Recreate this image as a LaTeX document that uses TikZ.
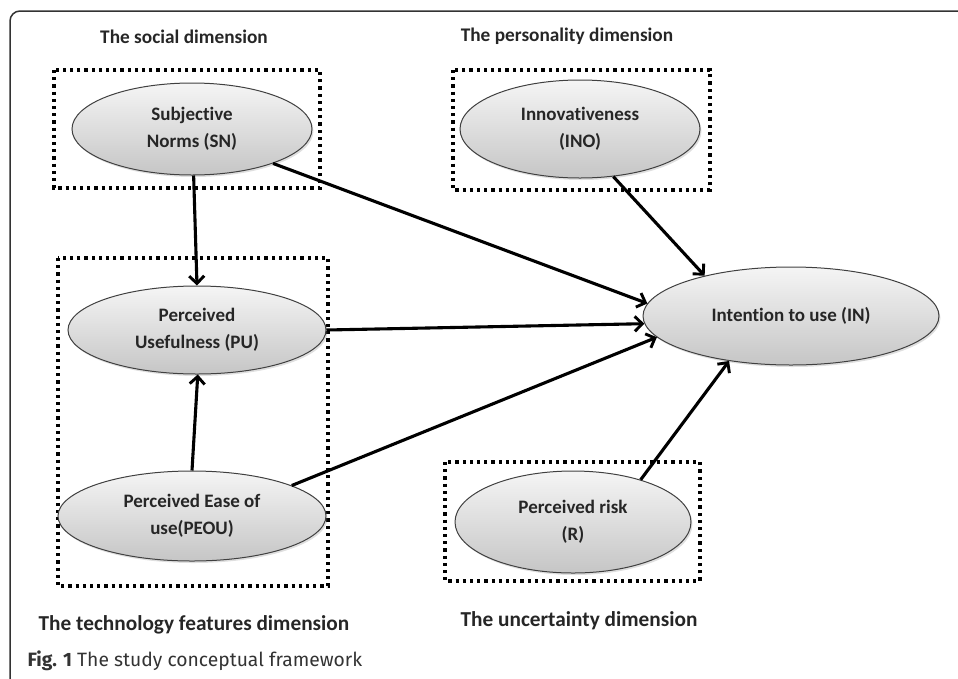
\documentclass[tikz,border=0pt]{standalone}
\usepackage{fontspec}
\setmainfont{Carlito}[Ligatures=CommonOff]
\newfontfamily\capfont{Fira Sans}
\usetikzlibrary{arrows.meta,shapes.geometric,shadows}
\begin{document}
\begin{tikzpicture}[x=1pt,y=-1pt,
  oval/.style={ellipse,draw=black!75,line width=1pt,inner sep=0pt,
    top color=gray!8,bottom color=gray!45,
    drop shadow={opacity=0.25,shadow xshift=1.5pt,shadow yshift=-2pt},
    font=\fontsize{19}{27.5}\selectfont\bfseries,align=center,text=black!85},
  dimbox/.style={draw=black,line width=3.3pt,dash pattern=on 3.2pt off 4pt},
  dimlabel/.style={font=\fontsize{19.3}{22}\selectfont\bfseries,text=black!85},
  dimlabelb/.style={font=\fontsize{21.3}{24}\selectfont\bfseries,text=black!85},
  arr/.style={line width=3.1pt,-{Straight Barb[length=7.5pt,width=15pt,line width=2.9pt]}}]
\useasboundingbox (0,0) rectangle (958,678);
\draw[black!80,line width=1.5pt,rounded corners=10pt] (10,11) rectangle (990,700);
% dotted group boxes
\draw[dimbox] (54,70) rectangle (320,188);
\draw[dimbox] (453,70) rectangle (710,190);
\draw[dimbox] (58,258) rectangle (328,586);
\draw[dimbox] (445,462) rectangle (700,581);
% dimension labels
\node[dimlabel] (tsoc) at (184,37) {The social dimension};
\node[dimlabel] (tper) at (567,36) {The personality dimension};
\node[dimlabelb] (ttec) at (194,625) {The technology features dimension};
\node[dimlabelb] (tunc) at (579,621) {The uncertainty dimension};
% ellipses
\node[oval,minimum width=240pt,minimum height=92pt] (sn) at (192,129) {Subjective\\Norms (SN)};
\node[oval,minimum width=258pt,minimum height=88pt] (pu) at (197,330) {Perceived\\Usefulness (PU)};
\node[oval,minimum width=268pt,minimum height=90pt] (peou) at (192,516) {Perceived Ease of\\use(PEOU)};
\node[oval,minimum width=240pt,minimum height=98pt] (ino) at (580,129) {Innovativeness\\(INO)};
\node[oval,minimum width=296pt,minimum height=98pt] (intent) at (791,316) {Intention to use (IN)};
\node[oval,minimum width=236pt,minimum height=102pt] (risk) at (573,522) {Perceived risk\\(R)};
% arrows
\draw[arr] (sn.-88) -- (pu.north);
\draw[arr] (peou.north) -- (pu.-89);
\draw[arr] (sn.-23) -- (intent.175);
\draw[arr] (pu.east) -- (intent.-177);
\draw[arr] (peou.17.6) -- (intent.-171.5);
\draw[arr] (ino.-55.7) -- (intent.155);
\draw[arr] (risk.32) -- (intent.-144.5);
% caption
\node[anchor=west,font=\capfont\fontsize{19.3}{22}\selectfont,text=black!80] (cap) at (24,661) {\textbf{Fig. 1} The study conceptual framework};
\end{tikzpicture}
\end{document}
